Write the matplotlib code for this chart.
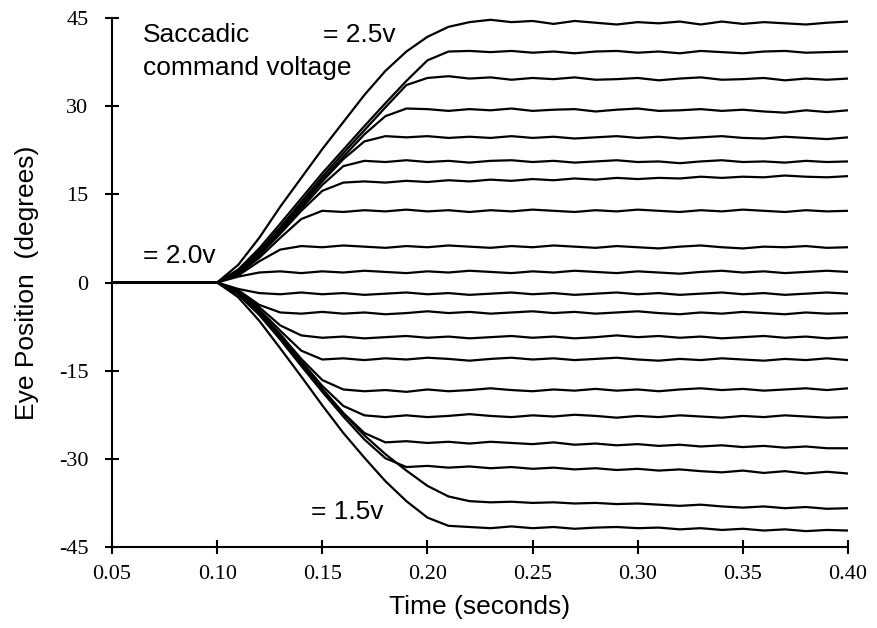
import matplotlib
matplotlib.use("Agg")
import numpy as np
from matplotlib import pyplot as plt

# time grid (seconds)
time_s = [0.05, 0.10, 0.11, 0.12, 0.13, 0.14, 0.15, 0.16, 0.17, 0.18, 0.19,
          0.20, 0.21, 0.22, 0.23, 0.24, 0.25, 0.26, 0.27, 0.28, 0.29, 0.30,
          0.31, 0.32, 0.33, 0.34, 0.35, 0.36, 0.37, 0.38, 0.39, 0.40]

# eye position traces (degrees)
up_1 = [0, 0, 3.0, 7.6, 12.9, 17.8, 22.7, 27.3, 31.9, 36.0, 39.3, 41.8, 43.5, 44.3, 44.7,
        44.3, 44.5, 44.0, 44.5, 44.2, 43.9, 44.3, 44.1, 44.4, 43.9, 44.4, 44.0, 44.3, 44.1, 43.9, 44.2, 44.4]
up_2 = [0, 0, 2.2, 5.8, 10.0, 14.3, 18.6, 22.6, 26.6, 30.5, 34.3, 37.8, 39.3, 39.4, 39.2,
        39.4, 39.1, 39.3, 39.0, 39.3, 39.4, 39.1, 39.3, 39.0, 39.4, 39.2, 39.0, 39.3, 39.4, 39.1, 39.2, 39.3]
up_3 = [0, 0, 2.0, 5.4, 9.4, 13.7, 18.0, 22.0, 25.9, 29.8, 33.6, 34.8, 35.1, 34.7, 34.9,
        34.5, 34.8, 34.6, 34.9, 34.5, 34.6, 34.8, 34.4, 34.7, 34.9, 34.5, 34.6, 34.8, 34.4, 34.7, 34.5, 34.7]
up_4 = [0, 0, 1.9, 5.2, 9.1, 13.3, 17.5, 21.4, 25.2, 28.3, 29.6, 29.5, 29.2, 29.5, 29.3,
        29.6, 29.2, 29.4, 29.5, 29.1, 29.4, 29.6, 29.2, 29.3, 29.5, 29.2, 29.4, 29.1, 28.9, 29.3, 29.0, 29.3]
up_5 = [0, 0, 1.8, 5.0, 8.9, 13.0, 17.2, 21.0, 24.0, 24.9, 24.7, 24.9, 24.6, 24.8, 24.6,
        24.9, 24.6, 24.8, 24.5, 24.7, 24.9, 24.6, 24.8, 24.5, 24.7, 24.9, 24.6, 24.5, 24.8, 24.6, 24.4, 24.7]
up_6 = [0, 0, 1.7, 4.8, 8.6, 12.6, 16.6, 19.8, 20.7, 20.5, 20.8, 20.5, 20.7, 20.4, 20.7,
        20.8, 20.5, 20.7, 20.4, 20.6, 20.8, 20.5, 20.6, 20.3, 20.6, 20.8, 20.5, 20.6, 20.4, 20.7, 20.5, 20.6]
up_7 = [0, 0, 1.6, 4.6, 8.3, 12.2, 15.6, 17.0, 17.2, 17.0, 17.3, 17.1, 17.4, 17.2, 17.5,
        17.3, 17.6, 17.4, 17.7, 17.5, 17.8, 17.6, 17.8, 17.7, 18.0, 17.8, 18.0, 17.9, 18.2, 18.0, 17.9, 18.1]
up_8 = [0, 0, 1.4, 4.2, 7.6, 10.8, 12.2, 12.0, 12.3, 12.1, 12.4, 12.1, 12.3, 12.0, 12.3,
        12.1, 12.4, 12.2, 12.0, 12.3, 12.1, 12.4, 12.2, 12.0, 12.3, 12.1, 12.4, 12.2, 12.0, 12.3, 12.1, 12.2]
up_9 = [0, 0, 1.2, 3.6, 5.6, 6.2, 6.0, 6.3, 6.1, 5.9, 6.2, 6.0, 6.3, 6.1, 5.9,
        6.2, 6.0, 6.3, 6.1, 5.9, 6.2, 6.0, 5.8, 6.1, 6.3, 6.0, 5.8, 6.1, 6.0, 6.2, 5.9, 6.0]
up_10 = [0, 0, 1.0, 1.7, 1.9, 1.6, 1.9, 1.7, 2.0, 1.8, 1.6, 1.9, 1.7, 2.0, 1.8,
         1.6, 1.9, 1.7, 2.0, 1.8, 1.6, 1.9, 1.7, 1.5, 1.8, 2.0, 1.7, 1.9, 1.6, 1.8, 2.0, 1.8]

down_1 = [0, 0, -1.1, -1.8, -2.0, -1.7, -2.0, -1.8, -2.1, -1.9, -1.7, -2.0, -1.8, -2.1, -1.9,
          -1.7, -2.0, -1.8, -2.1, -1.9, -1.7, -2.0, -1.8, -2.1, -1.9, -1.7, -2.0, -1.8, -2.1, -1.9, -1.7, -1.9]
down_2 = [0, 0, -1.3, -3.8, -5.1, -5.3, -5.0, -5.3, -5.1, -5.4, -5.2, -4.9, -5.2, -5.0, -5.3,
          -5.1, -4.9, -5.2, -5.0, -5.3, -5.1, -4.9, -5.2, -5.4, -5.1, -5.3, -5.0, -5.2, -5.4, -5.1, -5.3, -5.2]
down_3 = [0, 0, -1.5, -4.2, -7.3, -9.0, -9.4, -9.2, -9.5, -9.3, -9.1, -9.4, -9.2, -9.5, -9.3,
          -9.1, -9.4, -9.2, -9.5, -9.3, -9.0, -9.3, -9.1, -9.4, -9.2, -9.5, -9.3, -9.1, -9.4, -9.2, -9.5, -9.3]
down_4 = [0, 0, -1.6, -4.6, -8.2, -11.6, -13.1, -12.9, -13.2, -12.9, -13.1, -12.8, -13.0, -13.3, -13.0,
          -12.8, -13.1, -12.9, -13.2, -13.0, -12.8, -13.1, -13.3, -13.0, -13.2, -12.9, -13.1, -13.3, -13.0, -13.2, -12.9, -13.2]
down_5 = [0, 0, -1.7, -4.9, -8.8, -13.0, -16.6, -18.2, -18.5, -18.3, -18.6, -18.2, -18.5, -18.3, -18.0,
          -18.3, -18.5, -18.2, -18.4, -18.1, -18.4, -18.2, -18.5, -18.2, -18.0, -18.3, -18.1, -18.4, -18.2, -18.0, -18.3, -18.0]
down_6 = [0, 0, -1.8, -5.1, -9.1, -13.4, -17.6, -21.0, -22.6, -22.9, -22.6, -22.9, -22.7, -22.4, -22.7,
          -22.9, -22.6, -22.8, -22.5, -22.7, -23.0, -22.7, -22.9, -22.6, -22.8, -23.0, -22.7, -22.9, -22.6, -22.8, -23.0, -22.9]
down_7 = [0, 0, -1.9, -5.3, -9.4, -13.8, -18.1, -22.2, -25.6, -27.2, -27.0, -27.3, -27.1, -27.4, -27.1,
          -27.3, -27.5, -27.2, -27.6, -27.4, -27.7, -27.5, -27.8, -27.6, -27.9, -27.7, -28.0, -27.8, -28.1, -27.9, -28.2, -28.2]
down_8 = [0, 0, -2.0, -5.5, -9.7, -14.2, -18.6, -22.8, -26.7, -29.9, -31.4, -31.2, -31.5, -31.3, -31.6,
          -31.4, -31.7, -31.5, -31.8, -31.6, -31.9, -31.7, -32.0, -31.8, -32.1, -32.3, -32.0, -32.4, -32.1, -32.5, -32.2, -32.5]
down_9 = [0, 0, -2.0, -5.4, -9.5, -13.9, -18.2, -22.3, -26.0, -29.2, -32.0, -34.6, -36.4, -37.2, -37.4,
          -37.3, -37.5, -37.4, -37.6, -37.5, -37.7, -37.6, -37.8, -38.0, -37.8, -38.1, -38.3, -38.1, -38.4, -38.2, -38.5, -38.4]
down_10 = [0, 0, -2.5, -6.5, -11.2, -16.0, -20.9, -25.6, -29.8, -33.8, -37.2, -40.0, -41.4, -41.6, -41.8,
           -41.5, -41.8, -41.6, -41.9, -41.7, -41.6, -41.8, -41.7, -42.0, -41.8, -42.1, -41.9, -42.2, -42.0, -42.3, -42.1, -42.2]

traces = [up_1, up_2, up_3, up_4, up_5, up_6, up_7, up_8, up_9, up_10,
          down_1, down_2, down_3, down_4, down_5, down_6, down_7, down_8, down_9, down_10]

x_ticks = [0.05, 0.10, 0.15, 0.20, 0.25, 0.30, 0.35, 0.40]
x_tick_labels = ["0.05", "0.10", "0.15", "0.20", "0.25", "0.30", "0.35", "0.40"]
y_ticks = [-45, -30, -15, 0, 15, 30, 45]
y_tick_labels = ["-45", "-30", "-15", "0", "15", "30", "45"]


fig = plt.figure(figsize=(8.78, 6.28), dpi=100)
ax = fig.add_axes([0.1276, 0.129, 0.8382, 0.8423])

for tr in traces:
    ax.plot(time_s, tr, color="black", lw=1.6, solid_joinstyle="round", solid_capstyle="round")

ax.set_xlim(0.05, 0.40)
ax.set_ylim(-45, 45)

ax.spines["top"].set_visible(False)
ax.spines["right"].set_visible(False)
for s in ["left", "bottom"]:
    ax.spines[s].set_linewidth(1.5)
    ax.spines[s].set_color("black")

ax.set_xticks(x_ticks)
ax.set_xticklabels(x_tick_labels, family="Liberation Serif", fontsize=16)
ax.set_yticks(y_ticks)
ax.set_yticklabels(y_tick_labels, family="Liberation Serif", fontsize=16)
ax.tick_params(direction="inout", length=10, width=1.5, color="black")
ax.tick_params(axis="x", pad=8)
ax.tick_params(axis="y", pad=12)

ax.set_xlabel("Time (seconds)", family="Liberation Sans", fontsize=19, labelpad=8)
ax.set_ylabel("Eye Position  (degrees)", family="Liberation Sans", fontsize=19, labelpad=14)

txt = dict(family="Liberation Sans", fontsize=19, va="center", ha="left")
ax.text(0.0647, 42.1, "Saccadic", **txt)
ax.text(0.0647, 36.5, "command voltage", **txt)
ax.text(0.1503, 42.1, "= 2.5v", **txt)
ax.text(0.0647, 4.5, "= 2.0v", **txt)
ax.text(0.1446, -39.0, "= 1.5v", **txt)

fig.savefig("out.png", dpi=100)
